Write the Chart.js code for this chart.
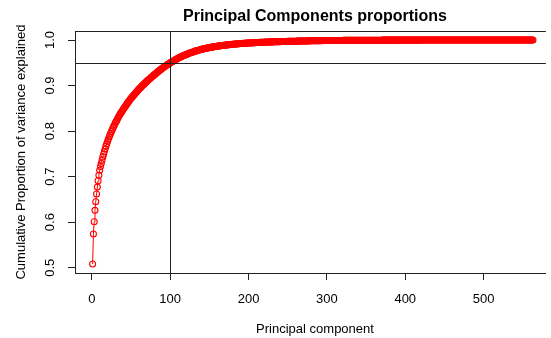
<!DOCTYPE html>
<html>
<head>
<meta charset="utf-8">
<script src="https://cdn.jsdelivr.net/npm/chart.js@4"></script>
<style>
  html, body { margin: 0; padding: 0; background: #fff; }
  canvas { display: block; }
</style>
</head>
<body>
<canvas id="pca" width="551" height="338"></canvas>
<script>
// ── Data ───────────────────────────────────────────────────
// cumulative proportion of variance for components 1..563
const cumVar = [
  0.508, 0.574, 0.601, 0.626, 0.645, 0.662, 0.677, 0.691, 0.703, 0.714,
  0.722, 0.729, 0.736, 0.743, 0.749, 0.755, 0.761, 0.767, 0.772, 0.777,
  0.782, 0.787, 0.791, 0.795, 0.799, 0.803, 0.807, 0.811, 0.814, 0.818,
  0.821, 0.824, 0.828, 0.831, 0.834, 0.837, 0.840, 0.842, 0.845, 0.848,
  0.850, 0.853, 0.855, 0.858, 0.860, 0.863, 0.865, 0.867, 0.870, 0.872,
  0.874, 0.876, 0.878, 0.880, 0.882, 0.884, 0.886, 0.888, 0.890, 0.892,
  0.894, 0.895, 0.897, 0.899, 0.901, 0.902, 0.904, 0.906, 0.907, 0.909,
  0.911, 0.912, 0.914, 0.915, 0.917, 0.918, 0.920, 0.921, 0.923, 0.924,
  0.9255, 0.927, 0.9285, 0.930, 0.9315, 0.933, 0.934, 0.9355, 0.937, 0.938,
  0.9395, 0.9405, 0.942, 0.943, 0.944, 0.9455, 0.9465, 0.9475, 0.949, 0.950,
  0.951, 0.952, 0.953, 0.954, 0.955, 0.956, 0.957, 0.958, 0.959, 0.960,
  0.961, 0.9618, 0.9626, 0.9634, 0.9642, 0.965, 0.9658, 0.9665, 0.9672, 0.9679,
  0.9686, 0.9693, 0.970, 0.9707, 0.9713, 0.972, 0.9726, 0.9732, 0.9738, 0.9744,
  0.975, 0.9756, 0.9761, 0.9766, 0.9771, 0.9776, 0.9781, 0.9786, 0.9791, 0.9795,
  0.9799, 0.9803, 0.9807, 0.9811, 0.9815, 0.9819, 0.9823, 0.9827, 0.983, 0.9834,
  0.9837, 0.984, 0.9843, 0.9846, 0.9849, 0.9852, 0.9855, 0.9858, 0.986, 0.9863,
  0.9866, 0.9868, 0.9871, 0.9873, 0.9876, 0.9878, 0.988, 0.9882, 0.9885, 0.9887,
  0.9889, 0.9891, 0.9893, 0.9895, 0.9897, 0.9899, 0.9901, 0.9903, 0.9905, 0.9907,
  0.9908, 0.991, 0.9912, 0.9913, 0.9915, 0.9916, 0.9918, 0.9919, 0.9921, 0.9922,
  0.9923, 0.9925, 0.9926, 0.9927, 0.9928, 0.993, 0.9931, 0.9932, 0.9933, 0.9934,
  0.9935, 0.9936, 0.9937, 0.9938, 0.9939, 0.994, 0.9941, 0.9942, 0.9943, 0.9944,
  0.9945, 0.9946, 0.9947, 0.9948, 0.9949, 0.9949, 0.995, 0.9951, 0.9952, 0.9952,
  0.9953, 0.9954, 0.9955, 0.9955, 0.9956, 0.9957, 0.9957, 0.9958, 0.9959, 0.9959,
  0.996, 0.996, 0.9961, 0.9962, 0.9962, 0.9963, 0.9963, 0.9964, 0.9964, 0.9965,
  0.9965, 0.9966, 0.9966, 0.9967, 0.9967, 0.9968, 0.9968, 0.9969, 0.9969, 0.997,
  0.997, 0.997, 0.9971, 0.9971, 0.9972, 0.9972, 0.9972, 0.9973, 0.9973, 0.9974,
  0.9974, 0.9975, 0.9975, 0.9976, 0.9976, 0.9977, 0.9977, 0.9978, 0.9978, 0.9979,
  0.9979, 0.998, 0.998, 0.998, 0.9981, 0.9981, 0.9982, 0.9982, 0.9982, 0.9983,
  0.9983, 0.9983, 0.9984, 0.9984, 0.9984, 0.9985, 0.9985, 0.9985, 0.9986, 0.9986,
  0.9986, 0.9987, 0.9987, 0.9987, 0.9987, 0.9988, 0.9988, 0.9988, 0.9989, 0.9989,
  0.999, 0.999, 0.999, 0.999, 0.999, 0.999, 0.999, 0.999, 0.999, 0.999,
  0.9991, 0.9991, 0.9991, 0.9991, 0.9991, 0.9991, 0.9991, 0.9991, 0.9991, 0.9991,
  0.9992, 0.9992, 0.9992, 0.9992, 0.9992, 0.9992, 0.9992, 0.9992, 0.9992, 0.9992,
  0.9993, 0.9993, 0.9993, 0.9993, 0.9993, 0.9993, 0.9993, 0.9993, 0.9993, 0.9993,
  0.9994, 0.9994, 0.9994, 0.9994, 0.9994, 0.9994, 0.9994, 0.9994, 0.9994, 0.9994,
  0.9995, 0.9995, 0.9995, 0.9995, 0.9995, 0.9995, 0.9995, 0.9995, 0.9995, 0.9995,
  0.9996, 0.9996, 0.9996, 0.9996, 0.9996, 0.9996, 0.9996, 0.9996, 0.9996, 0.9996,
  0.9997, 0.9997, 0.9997, 0.9997, 0.9997, 0.9997, 0.9997, 0.9997, 0.9997, 0.9997,
  0.9997, 0.9997, 0.9997, 0.9997, 0.9997, 0.9997, 0.9997, 0.9997, 0.9997, 0.9997,
  0.9998, 0.9998, 0.9998, 0.9998, 0.9998, 0.9998, 0.9998, 0.9998, 0.9998, 0.9998,
  0.9998, 0.9998, 0.9998, 0.9998, 0.9998, 0.9998, 0.9998, 0.9998, 0.9998, 0.9998,
  0.9998, 0.9998, 0.9998, 0.9998, 0.9998, 0.9998, 0.9998, 0.9998, 0.9998, 0.9998,
  0.9999, 0.9999, 0.9999, 0.9999, 0.9999, 0.9999, 0.9999, 0.9999, 0.9999, 0.9999,
  0.9999, 0.9999, 0.9999, 0.9999, 0.9999, 0.9999, 0.9999, 0.9999, 0.9999, 0.9999,
  0.9999, 0.9999, 0.9999, 0.9999, 0.9999, 0.9999, 0.9999, 0.9999, 0.9999, 0.9999,
  0.9999, 0.9999, 0.9999, 0.9999, 0.9999, 0.9999, 0.9999, 0.9999, 0.9999, 0.9999,
  0.9999, 0.9999, 0.9999, 0.9999, 0.9999, 0.9999, 0.9999, 0.9999, 0.9999, 0.9999,
  1, 1, 1, 1, 1, 1, 1, 1, 1, 1,
  1, 1, 1, 1, 1, 1, 1, 1, 1, 1,
  1, 1, 1, 1, 1, 1, 1, 1, 1, 1,
  1, 1, 1, 1, 1, 1, 1, 1, 1, 1,
  1, 1, 1, 1, 1, 1, 1, 1, 1, 1,
  1, 1, 1, 1, 1, 1, 1, 1, 1, 1,
  1, 1, 1, 1, 1, 1, 1, 1, 1, 1,
  1, 1, 1, 1, 1, 1, 1, 1, 1, 1,
  1, 1, 1, 1, 1, 1, 1, 1, 1, 1,
  1, 1, 1
];
const xTicks = [0, 100, 200, 300, 400, 500];
const yTicks = [0.5, 0.6, 0.7, 0.8, 0.9, 1.0];
const cutoffVar = 0.95;   // abline(h = ...)
const cutoffComp = 100;   // abline(v = ...)
const titleText = 'Principal Components proportions';
const xTitle = 'Principal component';
const yTitle = 'Cumulative Proportion of variance explained';

const FONT = '"Liberation Sans", Arial, Helvetica, sans-serif';
const INK = '#222';
const RED = '#ff0000';

const points = cumVar.map((v, i) => ({ x: i + 1, y: v }));

// ── R base-graphics look: box top, cut-off lines, text ─────
const rStyle = {
    id: 'rStyle',
    afterDatasetsDraw(chart) {
        const { ctx, chartArea: a, scales: { x, y } } = chart;
        ctx.save();
        ctx.strokeStyle = INK;
        ctx.lineWidth = 1;
        ctx.beginPath();
        // top of the box; the right side is cut off by the canvas
        ctx.moveTo(a.left, a.top + 0.5);
        ctx.lineTo(a.right, a.top + 0.5);
        const yc = Math.round(y.getPixelForValue(cutoffVar)) + 0.5;
        ctx.moveTo(a.left, yc);
        ctx.lineTo(a.right, yc);
        const xc = Math.round(x.getPixelForValue(cutoffComp)) + 0.5;
        ctx.moveTo(xc, a.top);
        ctx.lineTo(xc, a.bottom);
        ctx.stroke();
        ctx.restore();
    },
    afterDraw(chart) {
        const { ctx, chartArea: a, scales: { x, y } } = chart;
        ctx.save();
        ctx.fillStyle = '#000';

        ctx.font = 'bold 16px ' + FONT;
        ctx.textAlign = 'center';
        ctx.textBaseline = 'alphabetic';
        ctx.fillText(titleText, 315, 20.5);

        ctx.font = '13px ' + FONT;
        xTicks.forEach(v => ctx.fillText(String(v), x.getPixelForValue(v), 302.5));
        ctx.fillText(xTitle, 315, 332.5);

        yTicks.forEach(v => {
            ctx.save();
            ctx.translate(54, y.getPixelForValue(v));
            ctx.rotate(-Math.PI / 2);
            ctx.fillText(v.toFixed(1), 0, 0);
            ctx.restore();
        });

        ctx.translate(24.5, (a.top + a.bottom) / 2);
        ctx.rotate(-Math.PI / 2);
        ctx.fillText(yTitle, 0, 0);
        ctx.restore();
    }
};

new Chart(document.getElementById('pca'), {
    type: 'scatter',
    data: {
        datasets: [{
            data: points,
            showLine: true,
            borderColor: RED,
            backgroundColor: RED,
            borderWidth: 1,
            pointStyle: 'circle',
            pointRadius: 3,
            pointBorderWidth: 1.1,
            pointBorderColor: RED,
            pointBackgroundColor: 'rgba(255,255,255,0)'
        }]
    },
    options: {
        responsive: false,
        animation: false,
        devicePixelRatio: 1,
        layout: { padding: { top: 31, left: 0, right: 0, bottom: 0 } },
        plugins: { legend: { display: false }, tooltip: { enabled: false } },
        scales: {
            x: {
                type: 'linear',
                min: -21.5,
                max: 579.5,
                afterBuildTicks: s => { s.ticks = xTicks.map(v => ({ value: v })); },
                afterFit: s => { s.height = 65; },
                ticks: { display: false },
                grid: { drawOnChartArea: false, drawTicks: true, tickLength: 7, color: INK },
                border: { display: true, color: INK, width: 1 }
            },
            y: {
                type: 'linear',
                min: 0.4884,
                max: 1.0198,
                afterBuildTicks: s => { s.ticks = yTicks.map(v => ({ value: v })); },
                afterFit: s => { s.width = 75; },
                ticks: { display: false },
                grid: { drawOnChartArea: false, drawTicks: true, tickLength: 7, color: INK },
                border: { display: true, color: INK, width: 1 }
            }
        }
    },
    plugins: [rStyle]
});
</script>
</body>
</html>
